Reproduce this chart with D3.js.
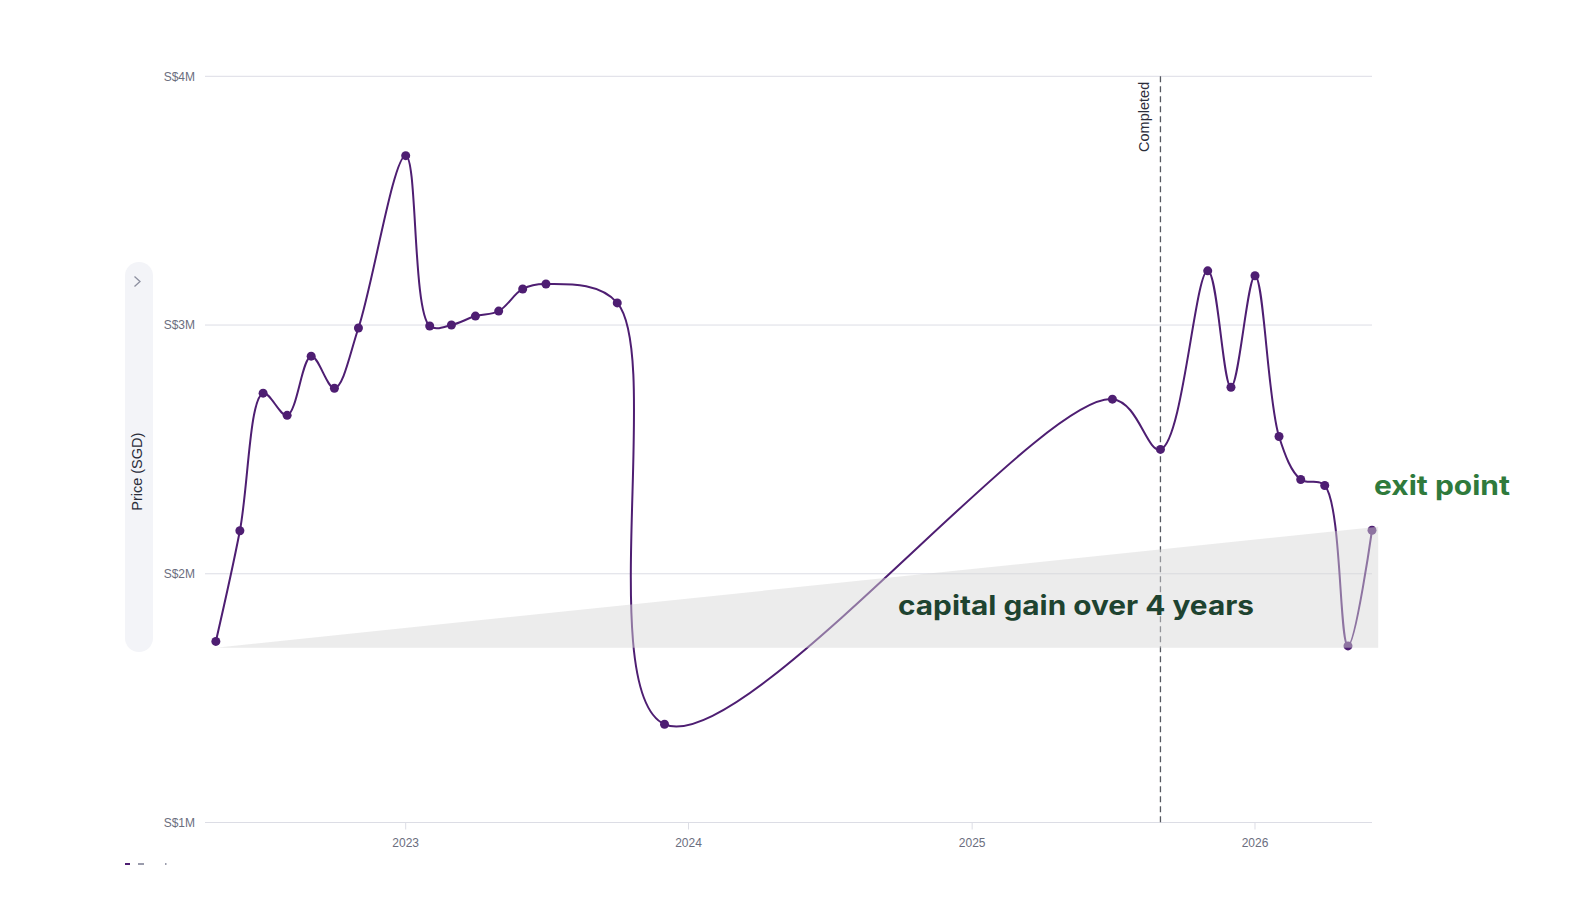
<!DOCTYPE html>
<html>
<head>
<meta charset="utf-8">
<script src="https://cdn.jsdelivr.net/npm/d3@7"></script>
<style>
  html, body { margin: 0; padding: 0; background: #ffffff; }
  svg { display: block; }
</style>
</head>
<body>
<svg id="chart" width="1573" height="910"></svg>
<script>
// ---------- data ----------
const dates = [
  "2022-05-01","2022-06-01","2022-07-01","2022-08-01","2022-09-01","2022-10-01","2022-11-01",
  "2023-01-01","2023-02-01","2023-03-01","2023-04-01","2023-05-01","2023-06-01","2023-07-01",
  "2023-10-01","2023-12-01",
  "2025-07-01","2025-09-01","2025-11-01","2025-12-01",
  "2026-01-01","2026-02-01","2026-03-01","2026-04-01","2026-05-01","2026-06-01"
];
const prices = [
  1.728, 2.173, 2.726, 2.637, 2.875, 2.746, 2.988,
  3.681, 2.996, 3.000, 3.036, 3.056, 3.145, 3.165,
  3.089, 1.395,
  2.702, 2.500, 3.218, 2.750,
  3.198, 2.552, 2.379, 2.355, 1.710, 2.175
].map(v => v * 1e6);
const yTicks = [1e6, 2e6, 3e6, 4e6];
const yTickLabels = ["S$1M", "S$2M", "S$3M", "S$4M"];
const xTickDates = ["2023-01-01", "2024-01-01", "2025-01-01", "2026-01-01"];
const xTickLabels = ["2023", "2024", "2025", "2026"];
const completedDate = "2025-09-01";
const completedLabel = "Completed";
const gainStart = { date: "2022-05-01", value: 1.703e6 };
const gainEnd = { date: "2026-06-09", value: 2.189e6 };
const gainLabel = "capital gain over 4 years";
const exitLabel = "exit point";
const yAxisTitle = "Price (SGD)";
const domainStart = "2022-04-17";
const domainEnd = "2026-06-01";

(function () {
// ---------- layout ----------
const parse = d3.utcParse("%Y-%m-%d");
const svg = d3.select("#chart");
const pLeft = 205, pRight = 1372, pTop = 76.3, pBottom = 822.5;

const x = d3.scaleUtc().domain([parse(domainStart), parse(domainEnd)]).range([pLeft, pRight]);
const y = d3.scaleLinear().domain([1e6, 4e6]).range([pBottom, pTop]);

const pts = dates.map((d, i) => ({ date: parse(d), value: prices[i] }));

// y-axis side panel
svg.append("rect")
  .attr("x", 125).attr("y", 262).attr("width", 28).attr("height", 390)
  .attr("rx", 14).attr("fill", "#f3f4f8");
svg.append("path")
  .attr("d", "M134.5,276.5 L140,281.5 L134.5,286.5")
  .attr("fill", "none").attr("stroke", "#8d90a0").attr("stroke-width", 1.3);
svg.append("text")
  .attr("transform", `translate(141.5,471.7) rotate(-90)`)
  .attr("text-anchor", "middle")
  .attr("font-family", "Liberation Sans, Arial, sans-serif")
  .attr("font-size", 14.5).attr("fill", "#2b2d3a")
  .text(yAxisTitle);

// cropped legend fragment at bottom-left
const leg = svg.append("g");
leg.append("rect").attr("x", 125).attr("y", 863).attr("width", 5).attr("height", 2).attr("fill", "#4e1e72");
leg.append("rect").attr("x", 138).attr("y", 863).attr("width", 6).attr("height", 2).attr("fill", "#9a9cac");
leg.append("rect").attr("x", 165).attr("y", 863).attr("width", 1.5).attr("height", 2).attr("fill", "#9a9cac");

// grid lines + y labels
const gy = svg.append("g");
yTicks.forEach((t, i) => {
  gy.append("line")
    .attr("x1", pLeft).attr("x2", pRight).attr("y1", y(t)).attr("y2", y(t))
    .attr("stroke", "#dcdde5").attr("stroke-width", 1);
  gy.append("text")
    .attr("x", 195).attr("y", y(t) + 4.3)
    .attr("text-anchor", "end")
    .attr("font-family", "Liberation Sans, Arial, sans-serif")
    .attr("font-size", 12).attr("fill", "#6b6e7e")
    .text(yTickLabels[i]);
});

// x axis ticks
const gx = svg.append("g");
xTickDates.forEach((d, i) => {
  const xx = x(parse(d));
  gx.append("line")
    .attr("x1", xx).attr("x2", xx).attr("y1", pBottom).attr("y2", pBottom + 7)
    .attr("stroke", "#dcdde5");
  gx.append("text")
    .attr("x", xx).attr("y", pBottom + 24.5)
    .attr("text-anchor", "middle")
    .attr("font-family", "Liberation Sans, Arial, sans-serif")
    .attr("font-size", 12).attr("fill", "#6b6e7e")
    .text(xTickLabels[i]);
});

// completed marker
const cx = x(parse(completedDate));
svg.append("line")
  .attr("x1", cx).attr("x2", cx).attr("y1", pTop).attr("y2", pBottom)
  .attr("stroke", "#555860").attr("stroke-width", 1.3)
  .attr("stroke-dasharray", "6,4");
svg.append("text")
  .attr("transform", `translate(${cx - 11.5},${pTop + 5.5}) rotate(-90)`)
  .attr("text-anchor", "end")
  .attr("font-family", "Liberation Sans, Arial, sans-serif")
  .attr("font-size", 14.5).attr("fill", "#2b2d3a")
  .text(completedLabel);

// price line
const line = d3.line()
  .x(d => x(d.date)).y(d => y(d.value))
  .curve(d3.curveCatmullRom.alpha(0.5));
svg.append("path")
  .datum(pts)
  .attr("d", line)
  .attr("fill", "none")
  .attr("stroke", "#4e1e72")
  .attr("stroke-width", 2);

svg.append("g").selectAll("circle")
  .data(pts).join("circle")
  .attr("cx", d => x(d.date)).attr("cy", d => y(d.value))
  .attr("r", 4.5).attr("fill", "#4e1e72");

// gain triangle (overlay)
const gx0 = x(parse(gainStart.date)), gy0 = y(gainStart.value);
const gx1 = x(parse(gainEnd.date)), gy1 = y(gainEnd.value);
svg.append("path")
  .attr("d", `M${gx0},${gy0} L${gx1},${gy1} L${gx1},${gy0} Z`)
  .attr("fill", "#d6d6d6").attr("fill-opacity", 0.47);

svg.append("text")
  .attr("x", 898).attr("y", 615)
  .attr("font-family", "Inter, sans-serif")
  .attr("font-weight", 700)
  .attr("font-size", 26.5)
  .attr("textLength", 356).attr("lengthAdjust", "spacingAndGlyphs")
  .attr("fill", "#1e4330")
  .text(gainLabel);

svg.append("text")
  .attr("x", 1374).attr("y", 495)
  .attr("font-family", "Inter, sans-serif")
  .attr("font-weight", 700)
  .attr("font-size", 26.5)
  .attr("textLength", 136).attr("lengthAdjust", "spacingAndGlyphs")
  .attr("fill", "#2f7a3c")
  .text(exitLabel);
})();
</script>
</body>
</html>
